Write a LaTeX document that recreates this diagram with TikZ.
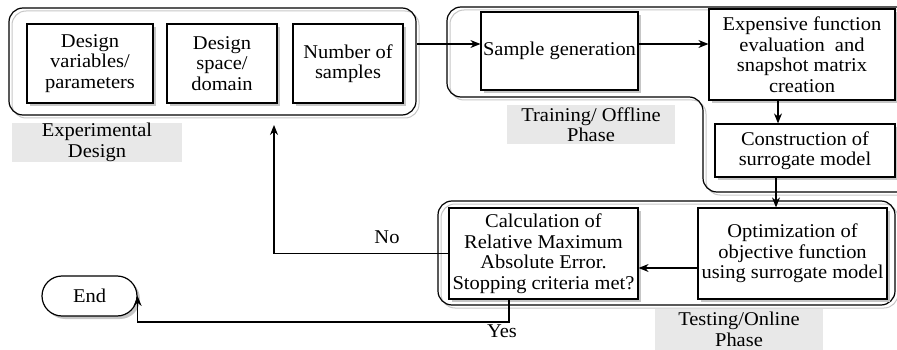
\documentclass[tikz,border=0pt]{standalone}
\usepackage{fontspec}
\setmainfont{Liberation Serif}[FakeStretch=1.05]
\usetikzlibrary{arrows.meta,shadows,shapes.misc}
\begin{document}
\begin{tikzpicture}[x=1pt,y=-1pt,
  font=\fontsize{19.5}{20.5}\selectfont,
  box/.style={draw, line width=1.2pt, fill=white, align=center, inner sep=0pt,
    drop shadow={shadow xshift=3pt, shadow yshift=-3pt, fill=gray!45, opacity=1}},
  grp/.style={draw, line width=1.2pt, rounded corners=14pt, inner sep=0pt},
  grpshadow/.style={draw=gray!45, line width=1pt, rounded corners=14pt},
  lbl/.style={fill=gray!18, align=center, inner sep=0pt},
  arr/.style={line width=1.2pt, -{Stealth[length=10pt,width=8pt]}},
  ln/.style={line width=1.2pt}]
\useasboundingbox (0,0) rectangle (897,350);
\clip (0,0) rectangle (897,350);

% group outlines
\draw[grpshadow] (12,11) rectangle (419,118);
\node[grp, minimum width=407pt, minimum height=107pt] (eg) at (212.5,61.5) {};
\draw[grpshadow] (905,10) -- (450,10) -- (450,100) -- (706,100) -- (706,195) -- (905,195);
\draw[ln, rounded corners=14pt] (905,7) -- (447,7) -- (447,97) -- (703,97) -- (703,192) -- (905,192);
\draw[grpshadow] (441,204) rectangle (898,308);
\node[grp, minimum width=457pt, minimum height=104pt] (tg) at (666.5,253) {};

% boxes
\node[box, minimum width=126pt, minimum height=79pt] (d1) at (90,63.5) {Design\\variables/\\parameters};
\node[box, minimum width=110pt, minimum height=79pt] (d2) at (222,63.5) {Design\\space/\\domain};
\node[box, minimum width=110pt, minimum height=79pt] (d3) at (348,63.5) {Number of\\samples};
\node[lbl, minimum width=170pt, minimum height=39pt] (el) at (97,142.5) {Experimental\\Design};

\node[box, minimum width=157pt, minimum height=78pt] (sg) at (559.5,51) {Sample generation};
\node[box, minimum width=186pt, minimum height=91pt] (ex) at (802,54.5) {Expensive function\\evaluation~ and\\snapshot matrix\\creation};
\node[box, minimum width=180pt, minimum height=53pt] (co) at (805,150.5) {Construction of\\surrogate model};
\node[lbl, minimum width=168pt, minimum height=39pt] (trl) at (591,124.5) {Training/ Offline\\Phase};

\node[box, minimum width=189pt, minimum height=91pt] (op) at (792.5,253.5) {Optimization of\\objective function\\using surrogate model};
\node[box, minimum width=189pt, minimum height=91pt] (ca) at (543.5,253.5) {Calculation of\\Relative Maximum\\Absolute Error.\\Stopping criteria met?};
\node[lbl, minimum width=168pt, minimum height=41pt] (tl) at (739,329.5) {Testing/Online\\Phase};

\node[box, rounded rectangle, minimum width=95pt, minimum height=40pt] (en) at (89.5,296) {End};

% connectors
\draw[arr] (eg.east |- 0,44) -- (sg.west |- 0,44);
\draw[arr] (sg.east |- 0,44) -- (ex.west |- 0,44);
\draw[arr] (ex.south -| 778,0) -- (co.north -| 778,0);
\draw[arr] (co.south -| 776,0) -- (op.north -| 776,0);
\draw[arr] (op.west |- 0,268) -- (ca.east |- 0,268);
\coordinate (noend) at (274,125);
\draw[arr] (ca.west) -| (noend);
\node (no) at (387,237) {No};
\draw[arr] (ca.south -| 509,0) -- (509,322) -| (en.east);
\node (yes) at (502,331) {Yes};
\end{tikzpicture}
\end{document}
